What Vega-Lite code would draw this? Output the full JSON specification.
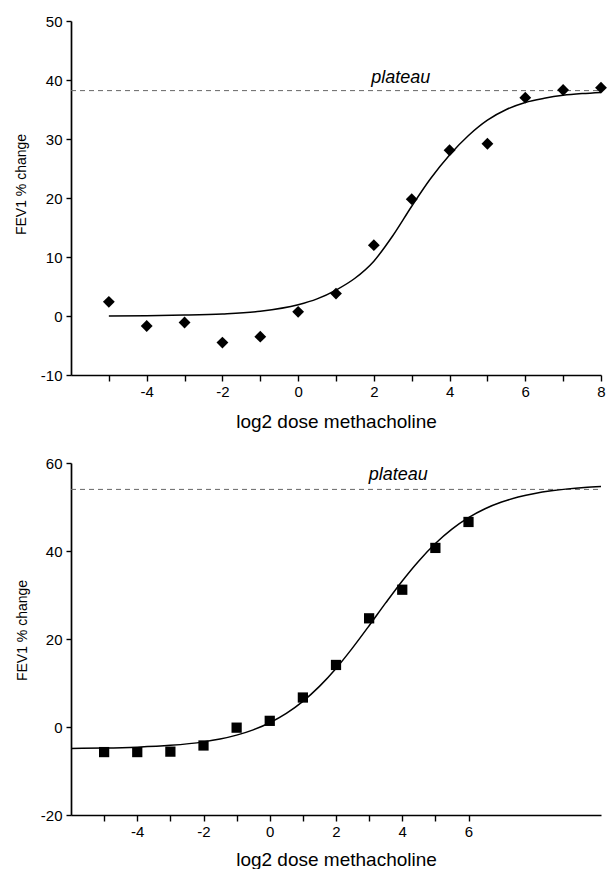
{
  "$schema": "https://vega.github.io/schema/vega-lite/v6.json",
  "background": "white",
  "padding": {"left": 14, "top": 14, "right": 0, "bottom": 0},
  "spacing": 25,
  "config": {
    "view": {"stroke": null},
    "font": "Liberation Sans",
    "axis": {
      "grid": false,
      "domainColor": "#000",
      "domainWidth": 1.7,
      "tickColor": "#000",
      "tickWidth": 1.4,
      "tickSize": 6,
      "labelColor": "#000",
      "labelFont": "Liberation Sans",
      "labelFontSize": 15,
      "titleColor": "#000",
      "titleFont": "Liberation Sans",
      "titleFontWeight": "normal",
      "labelOverlap": false,
      "labelFlush": false
    }
  },
  "datasets": {
    "pointsTop": [
      {"x": -5, "y": 2.4}, {"x": -4, "y": -1.7}, {"x": -3, "y": -1.1}, {"x": -2, "y": -4.5},
      {"x": -1, "y": -3.5}, {"x": 0, "y": 0.7}, {"x": 1, "y": 3.8}, {"x": 2, "y": 12.0},
      {"x": 3, "y": 19.8}, {"x": 4, "y": 28.1}, {"x": 5, "y": 29.2}, {"x": 6, "y": 37.0},
      {"x": 7, "y": 38.3}, {"x": 8, "y": 38.7}
    ],
    "curveTop": [
      {"x": -5, "y": 0.0}, {"x": -4, "y": 0.05}, {"x": -3, "y": 0.15}, {"x": -2, "y": 0.35},
      {"x": -1, "y": 0.8}, {"x": 0, "y": 1.9}, {"x": 0.5, "y": 2.9}, {"x": 1, "y": 4.4},
      {"x": 1.5, "y": 6.4}, {"x": 2, "y": 9.3}, {"x": 2.5, "y": 13.6}, {"x": 3, "y": 18.6},
      {"x": 3.5, "y": 23.3}, {"x": 4, "y": 27.3}, {"x": 4.5, "y": 30.6}, {"x": 5, "y": 33.2},
      {"x": 5.5, "y": 35.0}, {"x": 6, "y": 36.2}, {"x": 6.5, "y": 36.9}, {"x": 7, "y": 37.4},
      {"x": 7.5, "y": 37.7}, {"x": 8, "y": 37.9}
    ],
    "plateauTop": [{"x": -6, "xend": 8, "y": 38.2}],
    "labelTop": [{"x": 2.71, "y": 39.5, "label": "plateau"}],
    "pointsBottom": [
      {"x": -5, "y": -5.7}, {"x": -4, "y": -5.7}, {"x": -3, "y": -5.6}, {"x": -2, "y": -4.2},
      {"x": -1, "y": -0.15}, {"x": 0, "y": 1.4}, {"x": 1, "y": 6.7}, {"x": 2, "y": 14.1},
      {"x": 3, "y": 24.7}, {"x": 4, "y": 31.2}, {"x": 5, "y": 40.7}, {"x": 6, "y": 46.6}
    ],
    "curveBottom": [
      {"x": -6, "y": -4.86}, {"x": -5, "y": -4.79}, {"x": -4, "y": -4.58}, {"x": -3, "y": -4.17},
      {"x": -2, "y": -3.38}, {"x": -1.5, "y": -2.74}, {"x": -1, "y": -1.85}, {"x": -0.5, "y": -0.65},
      {"x": 0, "y": 0.97}, {"x": 0.5, "y": 3.09}, {"x": 1, "y": 5.83}, {"x": 1.5, "y": 9.23},
      {"x": 2, "y": 13.3}, {"x": 2.5, "y": 17.98}, {"x": 3, "y": 23.02}, {"x": 3.5, "y": 28.2},
      {"x": 4, "y": 33.2}, {"x": 4.5, "y": 37.75}, {"x": 5, "y": 41.7}, {"x": 5.5, "y": 44.97},
      {"x": 6, "y": 47.58}, {"x": 6.5, "y": 49.6}, {"x": 7, "y": 51.12}, {"x": 7.5, "y": 52.25},
      {"x": 8, "y": 53.08}, {"x": 8.5, "y": 53.68}, {"x": 9, "y": 54.12}, {"x": 9.5, "y": 54.43},
      {"x": 10, "y": 54.65}
    ],
    "plateauBottom": [{"x": -6, "xend": 10, "y": 54.0}],
    "labelBottom": [{"x": 3.88, "y": 56.2, "label": "plateau"}]
  },
  "vconcat": [
    {
      "width": 530,
      "height": 354,
      "layer": [
        {
          "data": {"name": "plateauTop"},
          "mark": {"type": "rule", "strokeDash": [5, 4], "color": "#666", "strokeWidth": 1},
          "encoding": {
            "x": {
              "field": "x", "type": "quantitative",
              "scale": {"domain": [-6, 8], "nice": false, "zero": false},
              "axis": {
                "title": "log2 dose methacholine",
                "values": [-5, -4, -3, -2, -1, 0, 1, 2, 3, 4, 5, 6, 7, 8],
                "labelExpr": "datum.value % 2 == 0 ? '' + datum.value : ''",
                "titleFontSize": 19,
                "titleY": 52,
                "titleBaseline": "alphabetic",
                "labelPadding": 3
              }
            },
            "x2": {"field": "xend"},
            "y": {
              "field": "y", "type": "quantitative",
              "scale": {"domain": [-10, 50], "nice": false, "zero": false},
              "axis": {
                "title": "FEV1 % change",
                "values": [-10, 0, 10, 20, 30, 40, 50],
                "labelExpr": "'' + datum.value",
                "titleFontSize": 14,
                "titleX": -46,
                "titleY": 163,
                "titleBaseline": "alphabetic",
                "labelPadding": 4,
                "tickSize": 5
              }
            }
          }
        },
        {
          "data": {"name": "curveTop"},
          "mark": {"type": "line", "color": "#000", "strokeWidth": 1.5, "interpolate": "monotone"},
          "encoding": {
            "x": {"field": "x", "type": "quantitative"},
            "y": {"field": "y", "type": "quantitative"}
          }
        },
        {
          "data": {"name": "pointsTop"},
          "mark": {"type": "point", "shape": "diamond", "filled": true, "size": 140, "color": "#000", "opacity": 1},
          "encoding": {
            "x": {"field": "x", "type": "quantitative"},
            "y": {"field": "y", "type": "quantitative"}
          }
        },
        {
          "data": {"name": "labelTop"},
          "mark": {"type": "text", "font": "Liberation Sans", "fontStyle": "italic", "fontSize": 18, "align": "center", "baseline": "alphabetic", "color": "#000"},
          "encoding": {
            "x": {"field": "x", "type": "quantitative"},
            "y": {"field": "y", "type": "quantitative"},
            "text": {"field": "label"}
          }
        }
      ]
    },
    {
      "width": 530,
      "height": 352,
      "layer": [
        {
          "data": {"name": "plateauBottom"},
          "mark": {"type": "rule", "strokeDash": [5, 4], "color": "#666", "strokeWidth": 1},
          "encoding": {
            "x": {
              "field": "x", "type": "quantitative",
              "scale": {"domain": [-6, 10], "nice": false, "zero": false},
              "axis": {
                "title": "log2 dose methacholine",
                "values": [-5, -4, -3, -2, -1, 0, 1, 2, 3, 4, 5, 6],
                "labelExpr": "datum.value % 2 == 0 ? '' + datum.value : ''",
                "titleFontSize": 19,
                "titleY": 50,
                "titleBaseline": "alphabetic",
                "labelPadding": 3
              }
            },
            "x2": {"field": "xend"},
            "y": {
              "field": "y", "type": "quantitative",
              "scale": {"domain": [-20, 60], "nice": false, "zero": false},
              "axis": {
                "title": "FEV1 % change",
                "values": [-20, 0, 20, 40, 60],
                "labelExpr": "'' + datum.value",
                "titleFontSize": 14,
                "titleX": -45,
                "titleY": 167,
                "titleBaseline": "alphabetic",
                "labelPadding": 4,
                "tickSize": 5
              }
            }
          }
        },
        {
          "data": {"name": "curveBottom"},
          "mark": {"type": "line", "color": "#000", "strokeWidth": 1.5, "interpolate": "monotone"},
          "encoding": {
            "x": {"field": "x", "type": "quantitative"},
            "y": {"field": "y", "type": "quantitative"}
          }
        },
        {
          "data": {"name": "pointsBottom"},
          "mark": {"type": "point", "shape": "square", "filled": true, "size": 105, "color": "#000", "opacity": 1},
          "encoding": {
            "x": {"field": "x", "type": "quantitative"},
            "y": {"field": "y", "type": "quantitative"}
          }
        },
        {
          "data": {"name": "labelBottom"},
          "mark": {"type": "text", "font": "Liberation Sans", "fontStyle": "italic", "fontSize": 18, "align": "center", "baseline": "alphabetic", "color": "#000"},
          "encoding": {
            "x": {"field": "x", "type": "quantitative"},
            "y": {"field": "y", "type": "quantitative"},
            "text": {"field": "label"}
          }
        }
      ]
    }
  ]
}
